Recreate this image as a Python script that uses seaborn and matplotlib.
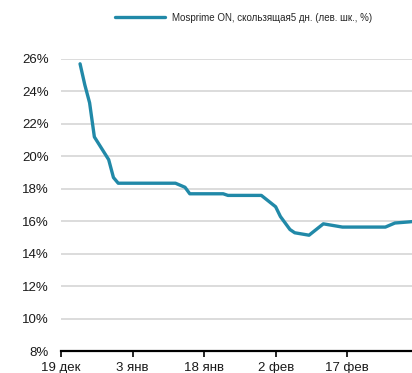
import matplotlib
matplotlib.use("Agg")
import matplotlib.pyplot as plt
from matplotlib.ticker import FuncFormatter
import pandas as pd
import seaborn as sns

# Mosprime ON, 5-day moving average (%)
dates = [
    "2014-12-23", "2014-12-24", "2014-12-25", "2014-12-26", "2014-12-29",
    "2014-12-30", "2014-12-31", "2015-01-12", "2015-01-14", "2015-01-15",
    "2015-01-22", "2015-01-23", "2015-01-30", "2015-02-02", "2015-02-03",
    "2015-02-05", "2015-02-06", "2015-02-09", "2015-02-12", "2015-02-16",
    "2015-02-25", "2015-02-27", "2015-03-02", "2015-03-03",
]
rates = [
    25.7, 24.4, 23.3, 21.2, 19.8,
    18.7, 18.35, 18.35, 18.1, 17.7,
    17.7, 17.6, 17.6, 16.9, 16.3,
    15.5, 15.3, 15.15, 15.85, 15.65,
    15.65, 15.9, 15.97, 16.0,
]
series_name = "Mosprime ON, скользящая5 дн. (лев. шк., %)"

tick_dates = ["2014-12-19", "2015-01-03", "2015-01-18", "2015-02-02", "2015-02-17"]
tick_labels = ["19 дек", "3 янв", "18 янв", "2 фев", "17 фев"]
y_ticks = [8, 10, 12, 14, 16, 18, 20, 22, 24, 26]

df = pd.DataFrame({"date": pd.to_datetime(dates), "rate": rates, "series": series_name})

sns.set_theme(style="white")
plt.rcParams["font.family"] = ["Liberation Sans", "DejaVu Sans"]

fig = plt.figure(figsize=(4.12, 3.73), dpi=100)
ax = fig.add_axes([0.148, 0.058, 0.852, 0.784])

sns.lineplot(data=df, x="date", y="rate", hue="series", palette=["#2189a8"],
             linewidth=2.4, ax=ax, legend=True)

ax.set_ylim(8, 26)
ax.set_xlim(pd.Timestamp("2014-12-19"), pd.Timestamp("2015-03-02 14:00"))
ax.set_yticks(y_ticks)
ax.yaxis.set_major_formatter(FuncFormatter(lambda v, p: f"{v:.0f}%"))
ax.set_xticks(pd.to_datetime(tick_dates))
ax.set_xticklabels(tick_labels)
ax.set_xlabel("")
ax.set_ylabel("")

ax.grid(axis="y", color="#d9d9d9", linewidth=1.3)
ax.grid(axis="x", visible=False)
ax.set_axisbelow(True)
for side in ["left", "right", "top"]:
    ax.spines[side].set_visible(False)
ax.spines["bottom"].set_color("black")
ax.spines["bottom"].set_linewidth(1.6)

ax.tick_params(axis="y", length=0, pad=9, labelsize=9.5, labelcolor="#1a1a1a")
ax.tick_params(axis="x", direction="out", length=4, width=1.2, color="black",
               bottom=True, pad=3.5, labelsize=9.5, labelcolor="#1a1a1a")

handles, labels = ax.get_legend_handles_labels()
ax.legend_.remove()
fig.legend(handles, labels, loc="center", bbox_to_anchor=(0.591, 0.953),
           frameon=False, fontsize=7.0, handlelength=5.1, handletextpad=0.75)

fig.savefig("out.png", dpi=100)
